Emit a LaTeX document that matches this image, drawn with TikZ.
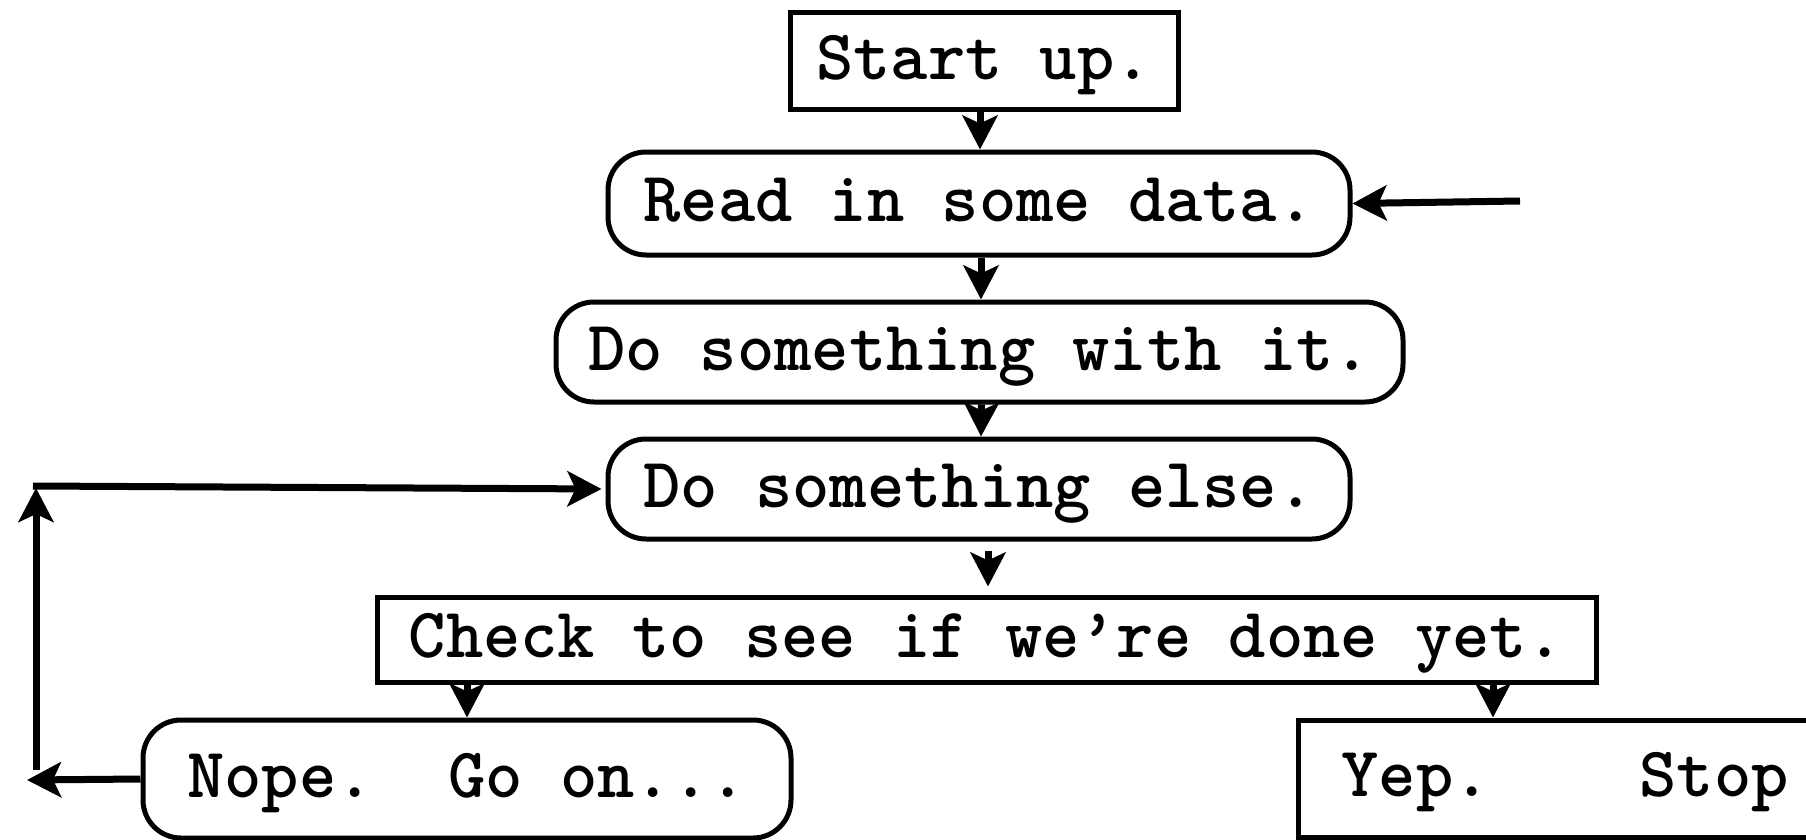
\documentclass[tikz,border=0pt]{standalone}
\newcommand\flowfont{\ttfamily\bfseries}
\usetikzlibrary{arrows.meta}

\begin{document}
\begin{tikzpicture}[x=1pt,y=-1pt,
    every node/.style={font=\flowfont\fontsize{71}{78}\selectfont,inner sep=0pt,text height=45pt,text depth=9pt},
    sqbox/.style={draw,line width=5pt},
    rndbox/.style={draw,line width=5pt,rounded corners=38pt},
    arr/.style={-{Stealth[length=34pt,width=35pt,inset=8pt]},line width=7pt}]
  \useasboundingbox (0,0) rectangle (1806,840);
  \clip (0,0) rectangle (1806,840);
  \node[sqbox,minimum width=388pt,minimum height=97pt] (start) at (984,61.5) {Start up.};
  \node[rndbox,minimum width=742pt,minimum height=103pt] (read) at (979,203.5) {Read in some data.};
  \node[rndbox,minimum width=847pt,minimum height=100pt] (with) at (979.5,352) {Do something with it.};
  \node[rndbox,minimum width=742pt,minimum height=100pt] (else) at (979,489) {Do something else.};
  \node[sqbox,minimum width=1219pt,minimum height=85pt] (check) at (986.5,639.5) {Check to see if we’re done yet.};
  \node[rndbox,minimum width=648pt,minimum height=118pt] (nope) at (467,779) {Nope.\ \ Go on...};
  \node[sqbox,anchor=west,minimum height=117pt,inner xsep=43pt] (yep) at (1296,778.5) {Yep.\ \ \ \ Stop};
  \coordinate (yepin) at (1493,720);
  \coordinate (feed) at (1520,201);
  \coordinate (nopeout) at (27,780);
  \coordinate (loopbot) at (36,770);
  \coordinate (looptop) at (36,488);
  \coordinate (loopstart) at (33,486);
  \draw[arr] ([xshift=-4pt]start.south) -- ([xshift=1pt]read.north);
  \draw[arr] ([xshift=2pt]read.south) -- ([xshift=1.5pt]with.north);
  \draw[arr] ([xshift=2pt]with.south) -- ([xshift=2pt]else.north);
  \draw[arr,shorten <=9pt,shorten >=8pt] ([xshift=9pt]else.south) -- ([xshift=9pt]else.south |- check.north);
  \draw[arr] (check.south -| nope.north) -- (nope.north);
  \draw[arr] (check.south -| yepin) -- (yepin |- yep.north);
  \draw[arr] (feed) -- (read.east);
  \draw[arr] (nope.west) -- (nopeout);
  \draw[arr] (loopbot) -- (looptop);
  \draw[arr,shorten >=4pt] (loopstart) -- (else.west);
\end{tikzpicture}
\end{document}
